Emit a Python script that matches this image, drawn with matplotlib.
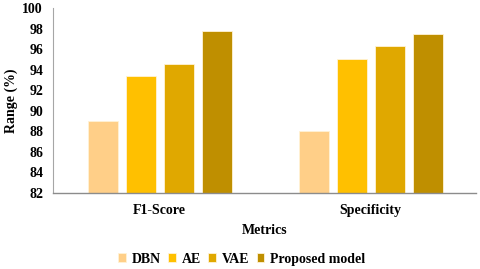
import numpy as np
import matplotlib
matplotlib.use('Agg')
import matplotlib.pyplot as plt

# data
metrics = ['F1-Score', 'Specificity']
models = ['DBN', 'AE', 'VAE', 'Proposed model']
dbn = [89.0, 88.0]
ae = [93.4, 95.0]
vae = [94.6, 96.3]
proposed = [97.8, 97.5]
yticks = list(range(82, 101, 2))

colors = ['#FFCF88', '#FFC000', '#E0A800', '#BF8F00']

plt.rcParams['font.family'] = ['Liberation Serif', 'DejaVu Serif']
plt.rcParams['font.weight'] = 'bold'

fig = plt.figure(figsize=(4.8, 2.69), dpi=100)
ax = fig.add_axes([0.110, 0.2825, 0.882, 0.6875])

x = np.arange(len(metrics))
width = 0.142
step = 0.18
for i, (vals, name) in enumerate(zip([dbn, ae, vae, proposed], models)):
    ax.bar(x + (i - 1.5) * step, np.array(vals) - 82, width, bottom=82,
           color=colors[i], edgecolor='#FFF3D6', linewidth=0.6, label=name)

ax.set_xlim(-0.507, 1.5)
ax.set_ylim(82, 100)
ax.set_yticks(yticks)
ax.set_xticks(x)
ax.set_xticklabels(metrics, fontsize=10, fontweight='bold')
ax.tick_params(axis='y', length=0, labelsize=10, pad=7)
ax.tick_params(axis='x', length=0, labelsize=10, pad=8)
for lbl in ax.get_yticklabels():
    lbl.set_fontweight('bold')

for s in ['top', 'right']:
    ax.spines[s].set_visible(False)
ax.spines['left'].set_color('#A6A6A6')
ax.spines['bottom'].set_color('#8C8C8C')
ax.spines['left'].set_linewidth(0.8)
ax.spines['bottom'].set_linewidth(1.0)

ax.set_ylabel('Range (%)', fontsize=10, fontweight='bold', labelpad=3)
ax.set_xlabel('Metrics', fontsize=10, fontweight='bold', labelpad=5)

fig.legend(loc='center', bbox_to_anchor=(0.504, 0.037), ncol=4, frameon=False,
           handlelength=0.55, handleheight=0.55, handletextpad=0.45,
           columnspacing=0.5, prop={'weight': 'bold', 'size': 10})

plt.savefig('out.png', dpi=100)
